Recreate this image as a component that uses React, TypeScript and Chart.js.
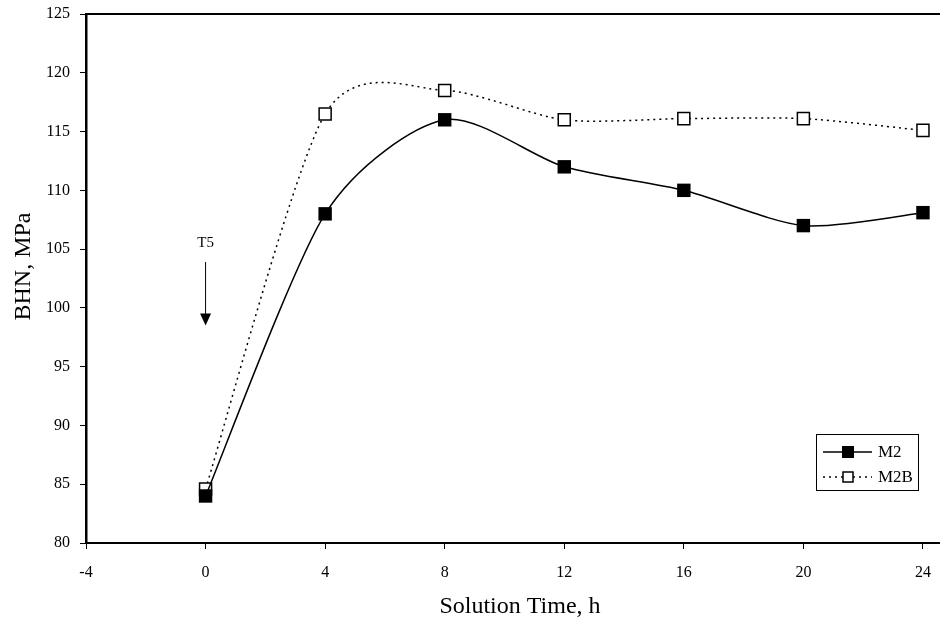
import React, { useEffect, useRef } from "react";
import { Chart, registerables } from "chart.js";

Chart.register(...registerables);

const hours = [0, 4, 8, 12, 16, 20, 24];
const m2 = [84, 108, 116, 112, 110, 107, 108.1];
const m2b = [84.6, 116.5, 118.5, 116.0, 116.1, 116.1, 115.1];
const yTicks = [80, 85, 90, 95, 100, 105, 110, 115, 120, 125];
const xTicks = [-4, 0, 4, 8, 12, 16, 20, 24];
const seriesNames = ["M2", "M2B"];
const xTitle = "Solution Time, h";
const yTitle = "BHN, MPa";
const arrowLabel = "T5";
const arrowX = 0;
const arrowTextY = 105.5;
const arrowFromY = 103.9;
const arrowToY = 98.5;

const SERIF = "'Liberation Serif', 'Times New Roman', serif";
const SMOOTH = 0.13;

// Excel-like smoothing: Catmull-Rom style control points in pixel space
const smoothPlugin = {
  id: "excelSmooth",
  beforeDatasetDraw(chart: any, args: any) {
    const meta = chart.getDatasetMeta(args.index);
    const pts = meta.data;
    const n = pts.length;
    for (let i = 0; i < n; i++) {
      const p = pts[i];
      const prev = pts[Math.max(0, i - 1)];
      const next = pts[Math.min(n - 1, i + 1)];
      const dx = next.x - prev.x;
      const dy = next.y - prev.y;
      p.cp1x = p.x - SMOOTH * dx;
      p.cp1y = p.y - SMOOTH * dy;
      p.cp2x = p.x + SMOOTH * dx;
      p.cp2y = p.y + SMOOTH * dy;
    }
    if (meta.dataset) meta.dataset._pointsUpdated = true;
  },
};

const overlayPlugin = {
  id: "overlay",
  afterDraw(chart: any) {
    const { ctx, chartArea } = chart;
    const xs = chart.scales.x;
    const ys = chart.scales.y;
    ctx.save();
    // top border
    ctx.strokeStyle = "#000";
    ctx.lineWidth = 2;
    ctx.beginPath();
    ctx.moveTo(chartArea.left - 1, chartArea.top);
    ctx.lineTo(chartArea.right, chartArea.top);
    ctx.stroke();

    // axis titles
    ctx.fillStyle = "#000";
    ctx.font = `24px ${SERIF}`;
    ctx.textAlign = "center";
    ctx.textBaseline = "alphabetic";
    ctx.fillText(xTitle, (chartArea.left + chartArea.right) / 2 + 7, chart.height - 4);
    ctx.save();
    ctx.translate(30, (chartArea.top + chartArea.bottom) / 2 - 12);
    ctx.rotate(-Math.PI / 2);
    ctx.fillText(yTitle, 0, 0);
    ctx.restore();

    // T5 arrow
    const ax = xs.getPixelForValue(arrowX);
    const ty = ys.getPixelForValue(arrowTextY);
    const y1 = ys.getPixelForValue(arrowFromY);
    const y2 = ys.getPixelForValue(arrowToY);
    ctx.font = `15px ${SERIF}`;
    ctx.textAlign = "center";
    ctx.textBaseline = "middle";
    ctx.fillText(arrowLabel, ax, ty);
    ctx.lineWidth = 1;
    ctx.beginPath();
    ctx.moveTo(ax, y1);
    ctx.lineTo(ax, y2 - 10);
    ctx.stroke();
    ctx.beginPath();
    ctx.moveTo(ax - 5.5, y2 - 12);
    ctx.lineTo(ax + 5.5, y2 - 12);
    ctx.lineTo(ax, y2);
    ctx.closePath();
    ctx.fill();

    // legend
    const bx = chartArea.right - 124;
    const by = chartArea.bottom - 109;
    const bw = 102;
    const bh = 56;
    ctx.lineWidth = 1;
    ctx.strokeStyle = "#000";
    ctx.strokeRect(bx + 0.5, by + 0.5, bw, bh);
    const rows = [by + 18, by + 43];
    ctx.font = `17px ${SERIF}`;
    ctx.textAlign = "left";
    rows.forEach((ry, i) => {
      ctx.beginPath();
      ctx.lineWidth = 1.5;
      if (i === 1) ctx.setLineDash([2, 4]);
      else ctx.setLineDash([]);
      ctx.moveTo(bx + 7, ry);
      ctx.lineTo(bx + 56, ry);
      ctx.stroke();
      ctx.setLineDash([]);
      const mx = bx + 32;
      if (i === 0) {
        ctx.fillStyle = "#000";
        ctx.fillRect(mx - 6, ry - 6, 12, 12);
      } else {
        ctx.fillStyle = "#fff";
        ctx.fillRect(mx - 5, ry - 5, 10, 10);
        ctx.lineWidth = 1.5;
        ctx.strokeRect(mx - 5, ry - 5, 10, 10);
      }
      ctx.fillStyle = "#000";
      ctx.fillText(seriesNames[i], bx + 62, ry + 1);
    });
    ctx.restore();
  },
};

const clearPadding = (s: any) => {
  s.paddingTop = 0;
  s.paddingBottom = 0;
  s.paddingLeft = 0;
  s.paddingRight = 0;
};

export default function App() {
  const ref = useRef<HTMLCanvasElement | null>(null);
  useEffect(() => {
    document.body.style.margin = "0";
    const canvas = ref.current;
    if (!canvas) return;
    const chart = new Chart(canvas, {
      type: "line",
      data: {
        datasets: [
          {
            label: seriesNames[0],
            data: hours.map((h, i) => ({ x: h, y: m2[i] })),
            borderColor: "#000",
            borderWidth: 1.5,
            backgroundColor: "#000",
            pointStyle: "rect",
            pointRadius: 9.5,
            pointBorderWidth: 0,
            pointBackgroundColor: "#000",
            tension: 0.4,
            order: 1,
          },
          {
            label: seriesNames[1],
            data: hours.map((h, i) => ({ x: h, y: m2b[i] })),
            borderColor: "#000",
            borderWidth: 1.5,
            borderDash: [2, 4],
            pointStyle: "rect",
            pointRadius: 8.5,
            pointBorderWidth: 1.5,
            pointBackgroundColor: "#fff",
            pointBorderColor: "#000",
            tension: 0.4,
            order: 2,
          },
        ],
      },
      options: {
        responsive: false,
        animation: false,
        layout: { autoPadding: false, padding: { top: 14, right: 0, bottom: 0, left: 0 } },
        plugins: {
          legend: { display: false },
          tooltip: { enabled: false },
        },
        scales: {
          x: {
            type: "linear",
            min: -4,
            max: 24.57,
            afterBuildTicks: (s: any) => {
              s.ticks = xTicks.map((v) => ({ value: v }));
            },
            afterFit: (s: any) => {
              s.height = 74;
              clearPadding(s);
            },
            grid: {
              display: true,
              drawOnChartArea: false,
              drawTicks: true,
              tickLength: 6,
              color: "#000",
              lineWidth: 1,
            },
            border: { display: true, color: "#000", width: 2 },
            ticks: {
              color: "#000",
              font: { family: SERIF, size: 16 },
              padding: 14,
              maxRotation: 0,
              autoSkip: false,
            },
          },
          y: {
            type: "linear",
            min: 80,
            max: 125,
            afterBuildTicks: (s: any) => {
              s.ticks = yTicks.map((v) => ({ value: v }));
            },
            afterFit: (s: any) => {
              s.width = 86;
              clearPadding(s);
            },
            grid: {
              display: true,
              drawOnChartArea: false,
              drawTicks: true,
              tickLength: 6,
              color: "#000",
              lineWidth: 1,
            },
            border: { display: true, color: "#000", width: 2.5 },
            ticks: {
              color: "#000",
              font: { family: SERIF, size: 16 },
              padding: 10,
              autoSkip: false,
            },
          },
        },
      },
      plugins: [smoothPlugin, overlayPlugin],
    });
    return () => chart.destroy();
  }, []);
  return (
    <div style={{ width: 940, height: 617, background: "#fff" }}>
      <canvas ref={ref} width={940} height={617} />
    </div>
  );
}
